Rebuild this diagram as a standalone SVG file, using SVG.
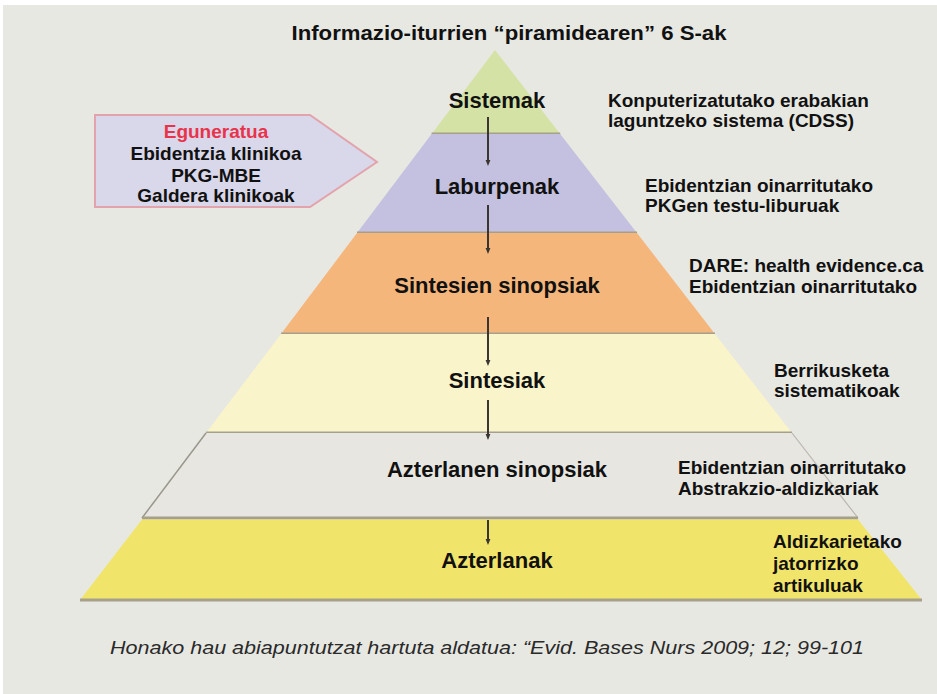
<svg xmlns="http://www.w3.org/2000/svg" width="937" height="694" viewBox="0 0 937 694">
<defs>
<marker id="ah" viewBox="0 0 10 10" refX="5" refY="5" markerWidth="3" markerHeight="3" orient="auto">
<path d="M0,1 L10,5 L0,9 Z" fill="#3a3530"/>
</marker>
<style>
.lbl{font-family:"Liberation Sans",Arial,sans-serif;font-weight:bold;font-size:22px;fill:#111;text-anchor:middle}
.side{font-family:"Liberation Sans",Arial,sans-serif;font-weight:bold;font-size:19px;fill:#111}
.box{font-family:"Liberation Sans",Arial,sans-serif;font-weight:bold;font-size:19px;fill:#111;text-anchor:middle}
.sep{stroke:#a59f8c;stroke-width:3;fill:none}
.conn{stroke:#3a3530;stroke-width:2;fill:none;marker-end:url(#ah)}
</style>
</defs>
<rect x="0" y="0" width="937" height="694" fill="#ffffff"/>
<rect x="3" y="5" width="934" height="689" fill="#e8e8e3"/>

<text x="509" y="40" font-family="'Liberation Sans',Arial,sans-serif" font-weight="bold" font-size="21" fill="#111" text-anchor="middle" textLength="435" lengthAdjust="spacingAndGlyphs">Informazio-iturrien “piramidearen” 6 S-ak</text>

<g id="sistemak">
<polygon points="495,50 431.6,134 560.2,134" fill="#d4e2a5"/>
<line class="sep" x1="431.6" y1="134" x2="560.2" y2="134"/>
<text class="lbl" x="497" y="108">Sistemak</text>
</g>
<g id="laburpenak">
<polygon points="431.6,134 560.2,134 637,233 357,233" fill="#c4c0df"/>
<line class="sep" x1="357" y1="233" x2="637" y2="233"/>
<text class="lbl" x="497" y="194">Laburpenak</text>
</g>
<g id="sintesien-sinopsiak">
<polygon points="357,233 637,233 715,334 281,334" fill="#f5b67c"/>
<line class="sep" x1="281" y1="334" x2="715" y2="334"/>
<text class="lbl" x="497" y="293">Sintesien sinopsiak</text>
</g>
<g id="sintesiak">
<polygon points="281,334 715,334 792,433 206,433" fill="#f9f4c9"/>
<line class="sep" x1="206" y1="433" x2="792" y2="433"/>
<text class="lbl" x="497" y="388">Sintesiak</text>
</g>
<g id="azterlanen-sinopsiak">
<polygon points="206,433 792,433 858,518 142,518" fill="#e7e6e1"/>
<line x1="206" y1="433" x2="142" y2="518" stroke="#9a968c" stroke-width="1.5"/>
<line x1="792" y1="433" x2="858" y2="518" stroke="#b9b6ae" stroke-width="1.2"/>
<line class="sep" x1="142" y1="518" x2="858" y2="518"/>
<text class="lbl" x="497" y="477">Azterlanen sinopsiak</text>
</g>
<g id="azterlanak">
<polygon points="142,519.5 858,519.5 922,600 80,600" fill="#f1e46a"/>
<line class="sep" x1="80" y1="600" x2="922" y2="600"/>
<text class="lbl" x="497" y="568">Azterlanak</text>
</g>

<g id="connectors">
<line class="conn" x1="488" y1="117" x2="488" y2="163"/>
<line class="conn" x1="488" y1="205" x2="488" y2="251"/>
<line class="conn" x1="488" y1="317" x2="488" y2="363"/>
<line class="conn" x1="488" y1="400" x2="488" y2="437"/>
<line class="conn" x1="488" y1="520" x2="488" y2="542"/>
</g>

<g id="eguneratua">
<polygon points="95,115 310,115 377,162 310,207 95,207" fill="#d9d7ea" stroke="#e3a3ac" stroke-width="2"/>
<text class="box" x="216" y="138" fill="#e8344a" style="fill:#e8344a">Eguneratua</text>
<text class="box" x="216" y="160">Ebidentzia klinikoa</text>
<text class="box" x="216" y="182">PKG-MBE</text>
<text class="box" x="216" y="202">Galdera klinikoak</text>
</g>

<g id="desc-sistemak">
<text class="side" x="608" y="107">Konputerizatutako erabakian</text>
<text class="side" x="608" y="127">laguntzeko sistema (CDSS)</text>
</g>
<g id="desc-laburpenak">
<text class="side" x="645" y="192">Ebidentzian oinarritutako</text>
<text class="side" x="645" y="212">PKGen testu-liburuak</text>
</g>
<g id="desc-sintesien-sinopsiak">
<text class="side" x="689" y="272">DARE: health evidence.ca</text>
<text class="side" x="689" y="293">Ebidentzian oinarritutako</text>
</g>
<g id="desc-sintesiak">
<text class="side" x="774" y="377">Berrikusketa</text>
<text class="side" x="774" y="397">sistematikoak</text>
</g>
<g id="desc-azterlanen-sinopsiak">
<text class="side" x="678" y="474">Ebidentzian oinarritutako</text>
<text class="side" x="678" y="495">Abstrakzio-aldizkariak</text>
</g>
<g id="desc-azterlanak">
<text class="side" x="773" y="548">Aldizkarietako</text>
<text class="side" x="773" y="570">jatorrizko</text>
<text class="side" x="773" y="592">artikuluak</text>
</g>

<text x="487" y="654" font-family="'Liberation Sans',Arial,sans-serif" font-style="italic" font-size="19" fill="#2a2a2a" text-anchor="middle" textLength="754" lengthAdjust="spacingAndGlyphs">Honako hau abiapuntutzat hartuta aldatua: “Evid. Bases Nurs 2009; 12; 99-101</text>
</svg>
